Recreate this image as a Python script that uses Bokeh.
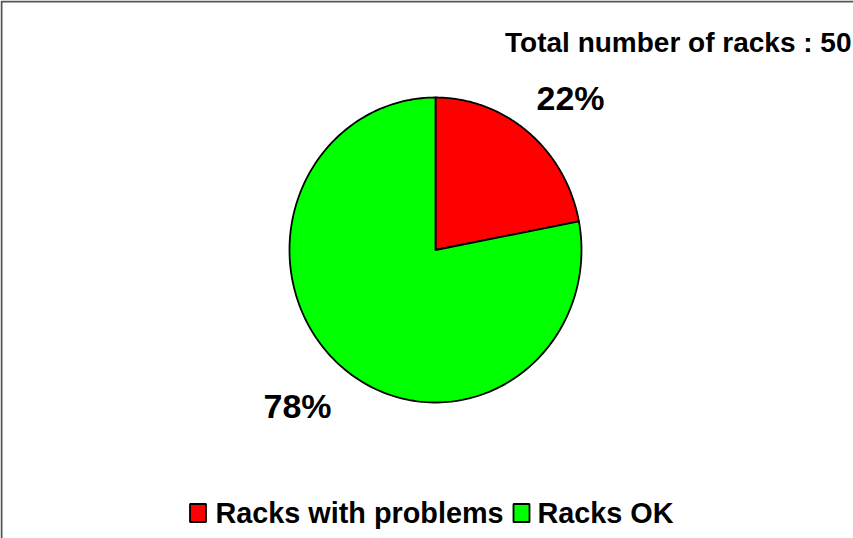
import numpy as np
from bokeh.plotting import figure
from bokeh.models import Range1d
from bokeh.core.properties import value
from bokeh.embed import file_html
from bokeh.resources import INLINE

# Chart data
categories = ["Racks with problems", "Racks OK"]
percentages = [22, 78]
colors = ["#FF0000", "#00FF00"]
total_racks = 50
title_text = f"Total number of racks : {total_racks}"

FONT = value("Liberation Sans")
W, H = 853, 538

p = figure(width=W, height=H, output_backend="svg", toolbar_location=None,
           x_range=Range1d(0, W), y_range=Range1d(H, 0), min_border=0,
           background_fill_color="white", border_fill_color="white")
p.axis.visible = False
p.grid.visible = False
p.outline_line_color = None

# outer chart border (right/bottom edges fall outside the page)
p.quad(left=[1], right=[W + 20], top=[1], bottom=[H + 20],
       fill_color=None, line_color="#555555", line_width=2)

# pie: slices clockwise from 12 o'clock, drawn as slightly tall ellipse
cx, cy, rx, ry = 435, 249.5, 146, 152.5
fracs = np.array(percentages, dtype=float) / sum(percentages)
edges = np.concatenate([[0.0], np.cumsum(fracs)]) * 2 * np.pi
xs, ys = [], []
for a0, a1 in zip(edges[:-1], edges[1:]):
    t = np.linspace(a0, a1, 200)
    xs.append(np.concatenate([[cx], cx + rx * np.sin(t), [cx]]).tolist())
    ys.append(np.concatenate([[cy], cy - ry * np.cos(t), [cy]]).tolist())
p.patches(xs, ys, fill_color=colors, line_color="black", line_width=1.8,
          line_join="round")

# percentage labels
label_xy = [(570, 97), (297, 405)]
p.text(x=[q[0] for q in label_xy], y=[q[1] for q in label_xy],
       text=[f"{v}%" for v in percentages], text_font=FONT,
       text_font_style="bold", text_font_size="34px", text_align="center",
       text_baseline="middle", text_color="black")

# title at top right
p.text(x=[851], y=[42], text=[title_text], text_font=FONT,
       text_font_style="bold", text_font_size="28px", text_align="right",
       text_baseline="middle", text_color="black")

# legend along the bottom
sq_x = [197.5, 521]
txt_x = [215, 537]
p.rect(x=sq_x, y=[512.5, 512.5], width=16, height=18, fill_color=colors,
       line_color="black", line_width=1.8)
p.text(x=txt_x, y=[512, 512], text=categories, text_font=FONT,
       text_font_style="bold", text_font_size="28.8px", text_align="left",
       text_baseline="middle", text_color="black")

open("out.html", "w").write(file_html(p, INLINE))
